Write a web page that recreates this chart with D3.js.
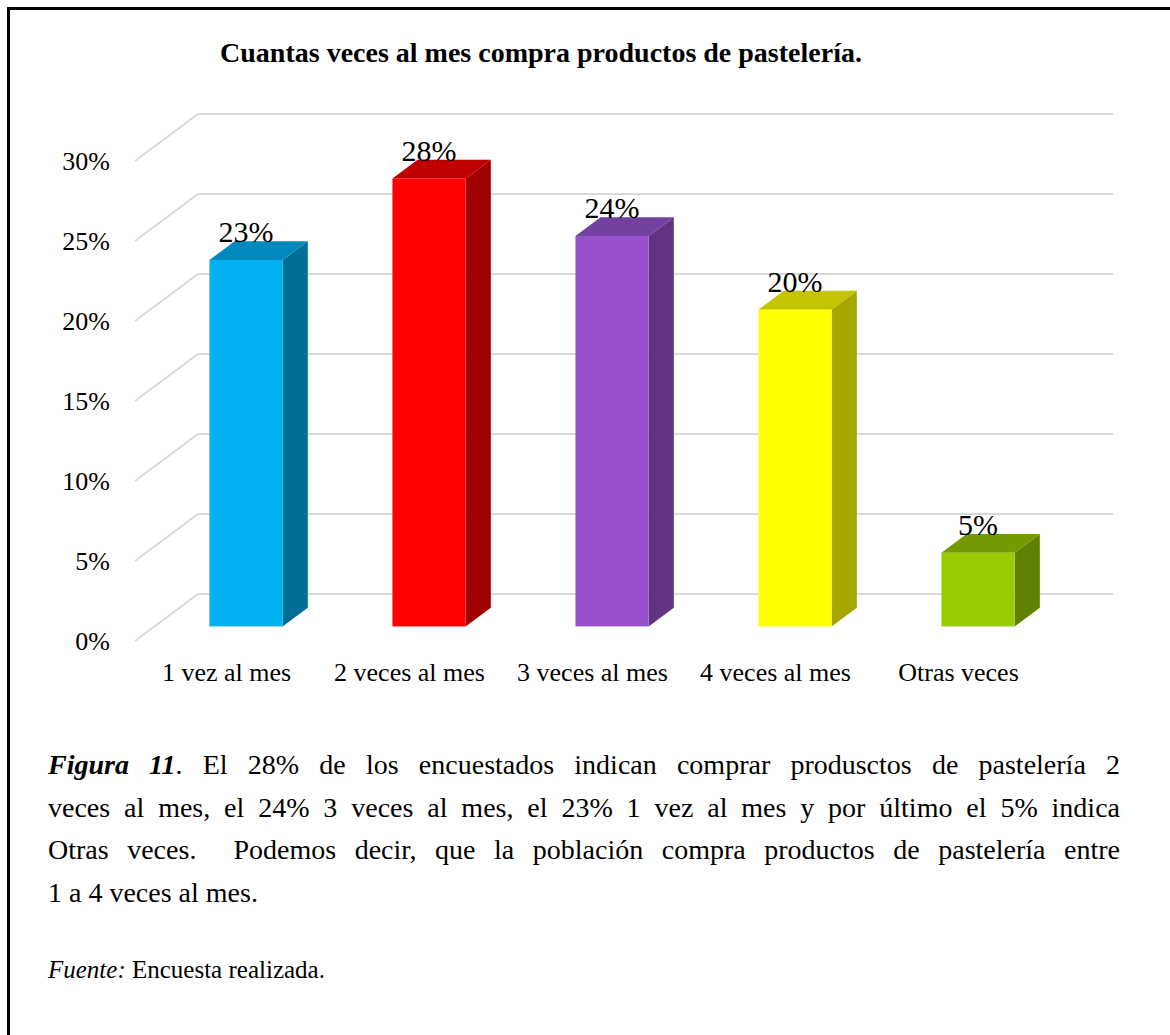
<!DOCTYPE html>
<html>
<head>
<meta charset="utf-8">
<script src="https://d3js.org/d3.v7.min.js"></script>
<style>
  body { margin: 0; background: #fff; }
  #wrap { position: relative; width: 1170px; height: 1035px; overflow: hidden; }
  svg { position: absolute; left: 0; top: 0; }
  svg text { font-family: "Liberation Serif", "Times New Roman", serif; fill: #000; }
  .caption { position: absolute; left: 48px; width: 1072px; font-family: "Liberation Serif", "Times New Roman", serif; color: #000; }
  .caption .ln { text-align: justify; text-align-last: justify; }
  .caption .ln.last { text-align-last: left; }
</style>
</head>
<body>
<div id="wrap">
  <svg id="chart" width="1170" height="1035"></svg>
</div>
<script>
// chart data
var categories = ["1 vez al mes", "2 veces al mes", "3 veces al mes", "4 veces al mes", "Otras veces"];
var values = [0.229, 0.28, 0.244, 0.198, 0.046];
var tickValues = [0, 0.05, 0.10, 0.15, 0.20, 0.25, 0.30];
var frontColors = ["#00b0f0", "#ff0000", "#9751cb", "#ffff00", "#99cc00"];
var topColors = ["#0089bd", "#c00000", "#7541a1", "#c4c400", "#749a00"];
var sideColors = ["#006f98", "#a00000", "#603481", "#a6a600", "#618100"];
var title = "Cuantas veces al mes compra productos de pastelería.";
var captionLines = [
  "<b><i>Figura 11</i></b>. El 28% de los encuestados indican comprar produsctos de pastelería 2",
  "veces al mes, el 24% 3 veces al mes, el 23% 1 vez al mes y por último el 5% indica",
  "Otras veces.&nbsp; Podemos decir, que la población compra productos de pastelería entre",
  "1 a 4 veces al mes."
];
var source = "<i>Fuente:</i> Encuesta realizada.";

function pct(v) { return Math.round(v * 100) + "%"; }

var svg = d3.select("#chart");

// frame (left and top edges)
svg.append("path")
  .attr("d", "M8.5,1035 L8.5,8.5 L1170,8.5")
  .attr("fill", "none")
  .attr("stroke", "#000")
  .attr("stroke-width", 3);

svg.append("text")
  .attr("x", 541).attr("y", 62)
  .attr("text-anchor", "middle")
  .attr("font-weight", "bold")
  .attr("font-size", 28)
  .text(title);

// back wall geometry + depth offset
var backLeft = 198, backRight = 1113;
var depthX = -63, depthY = 47;   // offset from back plane to front plane
var y = d3.scaleLinear().domain([0, 0.30]).range([594, 114]);
var x = d3.scaleBand().domain(categories).range([backLeft, backRight])
  .paddingInner(0.6).paddingOuter(0.3);

// gridlines: back horizontal + slanted side edge
var grid = svg.append("g");
tickValues.forEach(function (t) {
  var yb = y(t);
  grid.append("polyline")
    .attr("points", [[backLeft + depthX, yb + depthY], [backLeft, yb], [backRight, yb]].join(" "))
    .attr("fill", "none")
    .attr("stroke", "#d9d9d9")
    .attr("stroke-width", 2);
  svg.append("text")
    .attr("x", 110).attr("y", yb + depthY)
    .attr("dy", "0.36em")
    .attr("text-anchor", "end")
    .attr("font-size", 26)
    .text(pct(t));
});

// bars: front face sits at depth t0 (0 = front, 1 = back), bar depth dt
var t0 = 0.31, dt = 0.4;
var bars = svg.append("g");
categories.forEach(function (c, i) {
  var v = values[i];
  var fx = x(c) + depthX * (1 - t0);
  var fy0 = y(0) + depthY * (1 - t0);
  var w = x.bandwidth();
  var h = y(0) - y(v);
  var fy1 = fy0 - h;
  var ox = -depthX * dt, oy = -depthY * dt;
  // side
  bars.append("polygon")
    .attr("points", [[fx + w, fy0], [fx + w + ox, fy0 + oy], [fx + w + ox, fy1 + oy], [fx + w, fy1]].join(" "))
    .attr("fill", sideColors[i]);
  // top
  bars.append("polygon")
    .attr("points", [[fx, fy1], [fx + ox, fy1 + oy], [fx + w + ox, fy1 + oy], [fx + w, fy1]].join(" "))
    .attr("fill", topColors[i]);
  // front
  bars.append("rect")
    .attr("x", fx).attr("y", fy1)
    .attr("width", w).attr("height", h)
    .attr("fill", frontColors[i]);
  // value label
  bars.append("text")
    .attr("x", fx + w / 2).attr("y", fy1 + oy + 1)
    .attr("text-anchor", "middle")
    .attr("font-size", 30)
    .text(pct(v));
  // category label at the front plane
  svg.append("text")
    .attr("x", x(c) + depthX + w / 2).attr("y", 681)
    .attr("text-anchor", "middle")
    .attr("font-size", 26)
    .text(c);
});

// caption below chart
var cap = d3.select("#wrap").append("div")
  .attr("class", "caption")
  .style("top", "744px")
  .style("font-size", "28px")
  .style("line-height", "42.7px");
captionLines.forEach(function (l, i) {
  cap.append("div")
    .attr("class", "ln" + (i == captionLines.length - 1 ? " last" : ""))
    .html(l);
});

d3.select("#wrap").append("div")
  .attr("class", "caption")
  .style("top", "952px")
  .style("font-size", "25px")
  .style("line-height", "36px")
  .html(source);
</script>
</body>
</html>
